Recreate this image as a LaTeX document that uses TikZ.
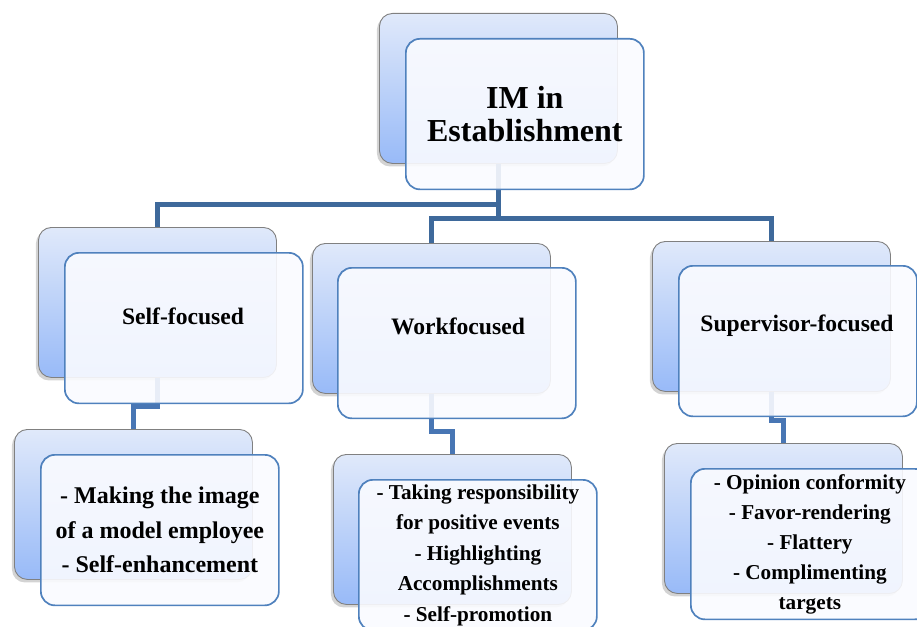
\documentclass[tikz,border=0pt]{standalone}
\usepackage{fontspec}
\setmainfont{Liberation Serif}
\usetikzlibrary{shadows}

\definecolor{linkdark}{RGB}{62,105,155}
\definecolor{linkleaf}{RGB}{72,118,180}
\definecolor{frontline}{RGB}{79,129,189}
\definecolor{frontfill}{RGB}{250,251,255}
\definecolor{backtop}{RGB}{224,233,250}
\definecolor{backbot}{RGB}{152,186,248}
\definecolor{backline}{RGB}{128,128,128}

\tikzset{
	backbox/.style={draw=backline,line width=0.9pt,rounded corners=13pt,top color=backtop,bottom color=backbot,minimum width=238pt,minimum height=150pt,inner sep=0pt,anchor=north west,drop shadow={shadow xshift=-2.5pt,shadow yshift=-3pt,opacity=0.35}},
	frontbox/.style={draw=frontline,line width=1.7pt,rounded corners=14pt,fill=frontfill,fill opacity=0.9,text opacity=1,minimum width=238pt,minimum height=150.5pt,inner sep=0pt,anchor=north west,align=center},
	midtext/.style={anchor=base,font=\fontsize{23.6}{28}\selectfont\bfseries},
	toplink/.style={draw=linkdark,line width=5pt},
	leaflink/.style={draw=linkleaf,line width=5pt}
}

\begin{document}
\begin{tikzpicture}[x=1pt,y=-1pt]
			\useasboundingbox (0,0) rectangle (917,626);
			\clip (0,0) rectangle (917,626);
			
			\node[backbox] (topB)at(379,13) {};
			\node[backbox] (selfB)at(38,227) {};
			\node[backbox] (workB)at(312,243) {};
			\node[backbox] (supB)at(652,241) {};
			\node[backbox] (selfLB)at(14,429) {};
			\node[backbox] (workLB)at(333,454) {};
			\node[backbox] (supLB)at(664,443) {};
			
			\draw[toplink] (topB.south) -- ++(0,41) -| (selfB.north);
			\draw[toplink] (topB.south) -- ++(0,55) -| (workB.north);
			\draw[toplink] (topB.south) ++(0,55) -| (supB.north);
			\draw[leaflink] (selfB.south) -- ++(0,29) -| (selfLB.north);
			\draw[leaflink] (workB.south) -- ++(0,38) -| (workLB.north);
			\draw[leaflink] (supB.south) -- ++(0,28.5) -| (supLB.north);
			
			\node[frontbox,font=\fontsize{32}{33}\selectfont\bfseries] (topF)at(405,38) {IM in\\Establishment};
			\node[frontbox] (selfF)at(64,252) {};
			\node[frontbox] (workF)at(337,267) {};
			\node[frontbox] (supF)at(678,265) {};
			\node[frontbox,font=\fontsize{24}{34.5}\selectfont\bfseries] (selfL)at(40,454) {- Making the image\\of a model employee\\- Self-enhancement};
			\node[frontbox,font=\fontsize{21.2}{30.5}\selectfont\bfseries] (workL)at(358,479) {- Taking responsibility\\for positive events\\- Highlighting\\Accomplishments\\- Self-promotion};
			\node[frontbox,font=\fontsize{21.2}{30}\selectfont\bfseries] (supL)at(690,468) {- Opinion conformity\\- Favor-rendering\\- Flattery\\- Complimenting\\targets};
			
			\node[midtext] (selfT)at(183,324) {Self-focused};
			\node[midtext] (workT)at(458,334) {Workfocused};
			\node[midtext] (supT)at(797,331.5) {Supervisor-focused};
		\end{tikzpicture}
\end{document}
